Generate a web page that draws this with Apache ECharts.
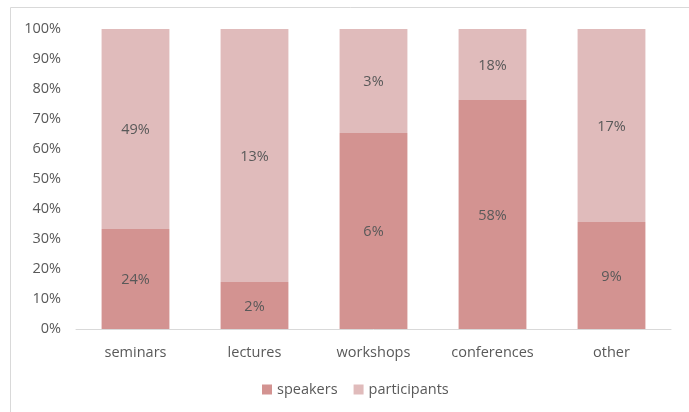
<!DOCTYPE html>
<html>
<head>
<meta charset="utf-8">
<script src="https://cdn.jsdelivr.net/npm/echarts@6/dist/echarts.min.js"></script>
<style>
  html, body { margin: 0; padding: 0; background: #fff; }
  #chart { width: 689px; height: 412px; }
</style>
</head>
<body>
<div id="chart"></div>
<script>
const categories = ['seminars', 'lectures', 'workshops', 'conferences', 'other']
// share of each bar (100% stacked)
const speakersShare = [33.3, 15.7, 65.3, 76.3, 35.7]
const participantsShare = [66.7, 84.3, 34.7, 23.7, 64.3]
// values printed inside the bars
const speakersLabels = ['24%', '2%', '6%', '58%', '9%']
const participantsLabels = ['49%', '13%', '3%', '18%', '17%']
const yTicks = [0, 10, 20, 30, 40, 50, 60, 70, 80, 90, 100]

const textColor = '#595959'
const font = '"Open Sans", sans-serif'
const fontSize = 14.5

const chart = echarts.init(document.getElementById('chart'))

const seg = (name, data, labels, color) => ({
  name,
  type: 'bar',
  stack: 'total',
  barWidth: '57%',
  data,
  itemStyle: { color },
  label: {
    show: true,
    position: 'inside',
    color: textColor,
    fontFamily: font,
    fontSize,
    offset: [0, 1],
    formatter: p => labels[p.dataIndex]
  }
})

chart.setOption({
  animation: false,
  graphic: [{
    type: 'rect',
    shape: { x: 10.5, y: 7.5, width: 720, height: 440 },
    style: { fill: 'none', stroke: '#d9d9d9', lineWidth: 1 },
    silent: true
  }],
  grid: { left: 76, right: 18, top: 29, bottom: 83 },
  legend: {
    left: 257,
    top: 377,
    itemWidth: 10,
    itemHeight: 10,
    itemGap: 16,
    icon: 'rect',
    textStyle: { color: textColor, fontFamily: font, fontSize },
    data: ['speakers', 'participants']
  },
  xAxis: {
    type: 'category',
    data: categories,
    axisLine: { lineStyle: { color: '#d9d9d9' } },
    axisTick: { show: false },
    axisLabel: { color: textColor, fontFamily: font, fontSize, margin: 16 }
  },
  yAxis: {
    type: 'value',
    min: yTicks[0],
    max: yTicks[yTicks.length - 1],
    interval: 10,
    splitLine: { show: false },
    axisLine: { show: false },
    axisTick: { show: false },
    axisLabel: { color: textColor, fontFamily: font, fontSize, margin: 15, formatter: '{value}%' }
  },
  series: [
    seg('speakers', speakersShare, speakersLabels, '#d39391'),
    seg('participants', participantsShare, participantsLabels, '#e0bbbb')
  ]
})
</script>
</body>
</html>
